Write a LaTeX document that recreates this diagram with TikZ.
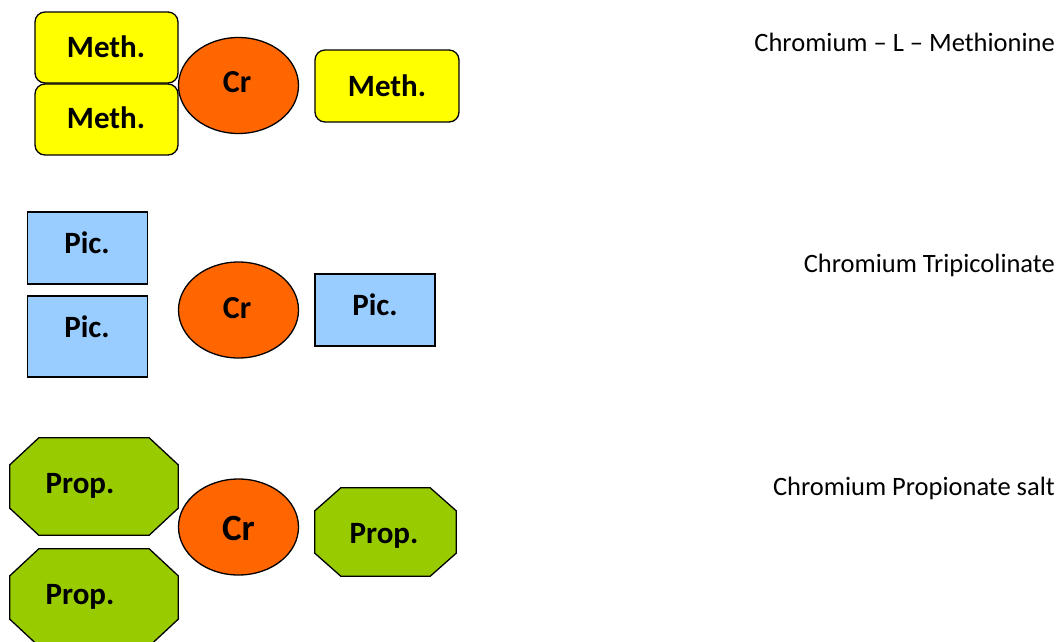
\documentclass[tikz,border=0pt]{standalone}
\usepackage{fontspec}
\setmainfont{Carlito}
\usetikzlibrary{shapes.geometric}
\definecolor{methyellow}{HTML}{FFFF00}
\definecolor{crorange}{HTML}{FF6600}
\definecolor{picblue}{HTML}{99CCFF}
\definecolor{propgreen}{HTML}{99CC00}
\tikzset{
  base/.style={draw=black, line width=1.3pt, inner sep=0pt},
  methbox/.style={base, fill=methyellow, rectangle, rounded corners=10pt, minimum width=143pt, minimum height=71pt},
  picbox/.style={base, fill=picblue, rectangle, minimum width=120pt},
  propframe/.style={rectangle, inner sep=0pt},
  propline/.style={draw=black, line width=1.3pt, fill=propgreen, line join=miter},
  crell/.style={base, fill=crorange, ellipse, minimum width=120pt, minimum height=96pt},
  boldtxt/.style={anchor=base, inner sep=0pt, font=\bfseries\fontsize{31}{31}\selectfont},
  crtxt/.style={anchor=base, inner sep=0pt, font=\bfseries\fontsize{32}{32}\selectfont},
  nametxt/.style={anchor=base east, inner sep=0pt, font=\fontsize{26.5}{26.5}\selectfont},
}
\newcommand{\octo}[3]{%
  \draw[propline] ([xshift=#2]#1.north west) -- ([xshift=-#2]#1.north east)
    -- ([yshift=-#3]#1.north east) -- ([yshift=#3]#1.south east)
    -- ([xshift=-#2]#1.south east) -- ([xshift=#2]#1.south west)
    -- ([yshift=#3]#1.south west) -- ([yshift=-#3]#1.north west) -- cycle;}
\begin{document}
\begin{tikzpicture}[x=1pt,y=-1pt]
\useasboundingbox (0,0) rectangle (1059,641);
% Methionine
\node[methbox] (m1) at (106.5,47.5) {};
\node[methbox] (m2) at (106.5,119.5) {};
\node[crell] (cr1) at (238.5,85.5) {};
\node[methbox, minimum width=144pt, minimum height=72pt] (m3) at (387,86) {};
\node[boldtxt] (m1t) at (106,57) {Meth.};
\node[boldtxt] (m2t) at (106,128) {Meth.};
\node[boldtxt] (m3t) at (387,96) {Meth.};
\node[crtxt] (cr1t) at (237,92) {Cr};
% Picolinate
\node[picbox, minimum height=72pt] (p1) at (87.5,248) {};
\node[picbox, minimum height=81pt] (p2) at (87.5,336.5) {};
\node[crell] (cr2) at (238.5,310) {};
\node[picbox, minimum height=72pt] (p3) at (375,310) {};
\node[boldtxt] (p1t) at (87,253) {Pic.};
\node[boldtxt] (p2t) at (87,337) {Pic.};
\node[boldtxt] (p3t) at (375,315) {Pic.};
\node[crtxt] (cr2t) at (237,318) {Cr};
% Propionate
\node[propframe, minimum width=168pt, minimum height=97pt] (pr1) at (94,486.5) {};
\octo{pr1}{29pt}{27pt}
\node[propframe, minimum width=168pt, minimum height=97pt] (pr2) at (94,597.5) {};
\octo{pr2}{29pt}{27pt}
\node[crell] (cr3) at (238.5,527) {};
\node[propframe, minimum width=141pt, minimum height=88pt] (pr3) at (385.5,532) {};
\octo{pr3}{26pt}{23pt}
\node[boldtxt] (pr1t) at (80,493) {Prop.};
\node[boldtxt] (pr2t) at (80,604) {Prop.};
\node[boldtxt] (pr3t) at (384,543) {Prop.};
\node[crtxt, font=\bfseries\fontsize{37}{37}\selectfont] (cr3t) at (238.5,540) {Cr};
% Names
\node[nametxt] (n1) at (1055,51) {Chromium – L – Methionine};
\node[nametxt] (n2) at (1055,272) {Chromium Tripicolinate};
\node[nametxt] (n3) at (1055,495) {Chromium Propionate salt};
\end{tikzpicture}
\end{document}
